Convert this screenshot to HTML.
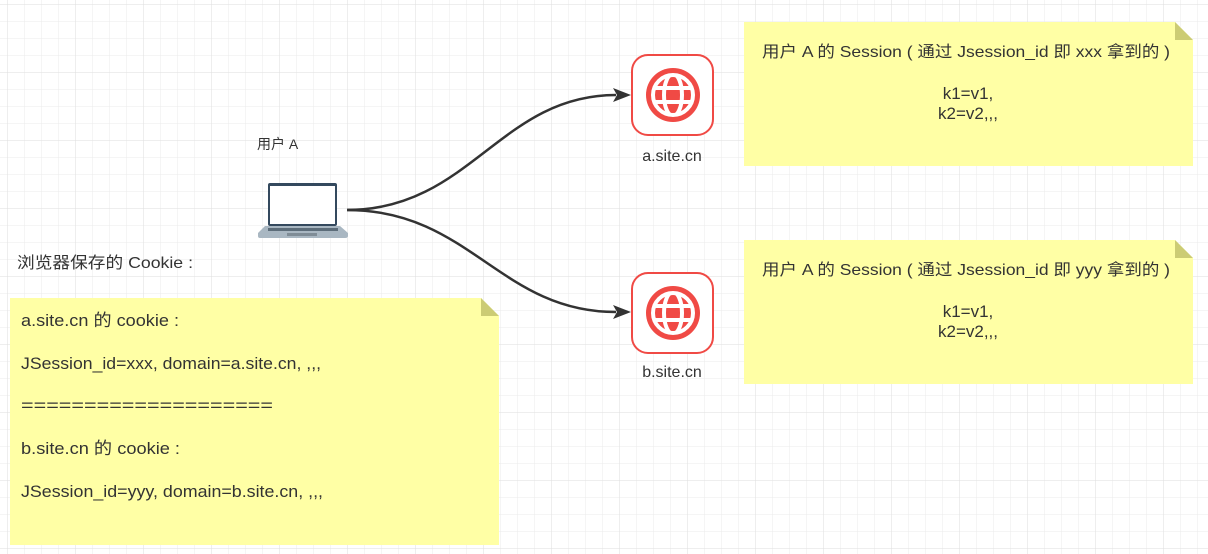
<!DOCTYPE html>
<html><head><meta charset="utf-8"><style>
html,body{margin:0;padding:0;background:#fff;}
svg{display:block;}
text{font-family:"Liberation Sans","Noto Sans CJK SC",sans-serif;fill:#333;}
</style></head><body>
<svg width="1208" height="554" viewBox="0 0 1208 554" xmlns="http://www.w3.org/2000/svg">
<defs>
<pattern id="g" x="7" y="4" width="17" height="17" patternUnits="userSpaceOnUse">
<path d="M0 0H17M0 0V17" stroke="#ebebeb" stroke-width="1" fill="none"/>
</pattern>
<pattern id="G" x="7" y="4" width="68" height="68" patternUnits="userSpaceOnUse">
<path d="M0 0H68M0 0V68" stroke="#dedede" stroke-width="1" fill="none"/>
</pattern>
<clipPath id="c"><circle cx="42" cy="41" r="19"/></clipPath>
</defs>
<rect width="1208" height="554" fill="url(#g)"/>
<rect width="1208" height="554" fill="url(#G)"/>

<path d="M347 210 C 470 210, 500 95, 616 95" stroke="#333" stroke-width="2.5" fill="none"/>
<path d="M347 210 C 470 210, 500 312, 616 312" stroke="#333" stroke-width="2.5" fill="none"/>
<path d="M631 95 L613 88 L617 95 L613 102 Z" fill="#333"/>
<path d="M631 312 L613 305 L617 312 L613 319 Z" fill="#333"/>

<rect x="268" y="183" width="69" height="43" rx="2" fill="#34495e"/>
<rect x="270" y="186" width="65" height="38" fill="#fff"/>
<path d="M258 233 L265 226 L340 226 L348 233 L348 236 Q348 238 345 238 L260 238 Q258 238 258 236 Z" fill="#a9b7c2"/>
<rect x="268" y="228" width="70" height="3" fill="#5d6d7a"/>
<rect x="287" y="233" width="30" height="3" fill="#7f8c96"/>
<text x="257" y="149" font-size="14">用户 A</text>

<g transform="translate(631,54)">
<rect x="1" y="1" width="81" height="80" rx="16" fill="#fff" stroke="#f04a45" stroke-width="2"/>
<circle cx="42" cy="41" r="27" fill="#f04a45"/>
<circle cx="42" cy="41" r="20" fill="none" stroke="#fff" stroke-width="4"/>
<g stroke="#fff" stroke-width="4" fill="none" clip-path="url(#c)">
<ellipse cx="42" cy="41" rx="9" ry="21"/>
<line x1="20" y1="34" x2="64" y2="34"/>
<line x1="20" y1="48" x2="64" y2="48"/>
</g>
</g>
<text x="672" y="161" font-size="16" text-anchor="middle">a.site.cn</text>

<g transform="translate(631,272)">
<rect x="1" y="1" width="81" height="80" rx="16" fill="#fff" stroke="#f04a45" stroke-width="2"/>
<circle cx="42" cy="41" r="27" fill="#f04a45"/>
<circle cx="42" cy="41" r="20" fill="none" stroke="#fff" stroke-width="4"/>
<g stroke="#fff" stroke-width="4" fill="none" clip-path="url(#c)">
<ellipse cx="42" cy="41" rx="9" ry="21"/>
<line x1="20" y1="34" x2="64" y2="34"/>
<line x1="20" y1="48" x2="64" y2="48"/>
</g>
</g>
<text x="672" y="377" font-size="16" text-anchor="middle">b.site.cn</text>

<path d="M744 22 H1175 L1193 40 V166 H744 Z" fill="#ffffa5"/>
<path d="M1175 22 L1193 40 H1175 Z" fill="#cccc74"/>
<text x="762" y="57" font-size="16" textLength="408" lengthAdjust="spacingAndGlyphs">用户 A 的 Session ( 通过 Jsession_id 即 xxx 拿到的 )</text>
<text x="968" y="99" font-size="17" text-anchor="middle">k1=v1,</text>
<text x="968" y="119" font-size="17" text-anchor="middle">k2=v2,,,</text>

<path d="M744 240 H1175 L1193 258 V384 H744 Z" fill="#ffffa5"/>
<path d="M1175 240 L1193 258 H1175 Z" fill="#cccc74"/>
<text x="762" y="275" font-size="16" textLength="408" lengthAdjust="spacingAndGlyphs">用户 A 的 Session ( 通过 Jsession_id 即 yyy 拿到的 )</text>
<text x="968" y="317" font-size="17" text-anchor="middle">k1=v1,</text>
<text x="968" y="337" font-size="17" text-anchor="middle">k2=v2,,,</text>

<text x="17" y="268" font-size="16" textLength="176" lengthAdjust="spacingAndGlyphs">浏览器保存的 Cookie :</text>
<path d="M10 298 H481 L499 316 V545 H10 Z" fill="#ffffa5"/>
<path d="M481 298 L499 316 H481 Z" fill="#cccc74"/>
<text x="21" y="326" font-size="17" textLength="158" lengthAdjust="spacingAndGlyphs">a.site.cn 的 cookie :</text>
<text x="21" y="369" font-size="17" textLength="300" lengthAdjust="spacingAndGlyphs">JSession_id=xxx, domain=a.site.cn, ,,,</text>
<text x="21" y="411" font-size="17" textLength="252" lengthAdjust="spacingAndGlyphs">====================</text>
<text x="21" y="454" font-size="17" textLength="159" lengthAdjust="spacingAndGlyphs">b.site.cn 的 cookie :</text>
<text x="21" y="497" font-size="17" textLength="302" lengthAdjust="spacingAndGlyphs">JSession_id=yyy, domain=b.site.cn, ,,,</text>
</svg>
</body></html>
